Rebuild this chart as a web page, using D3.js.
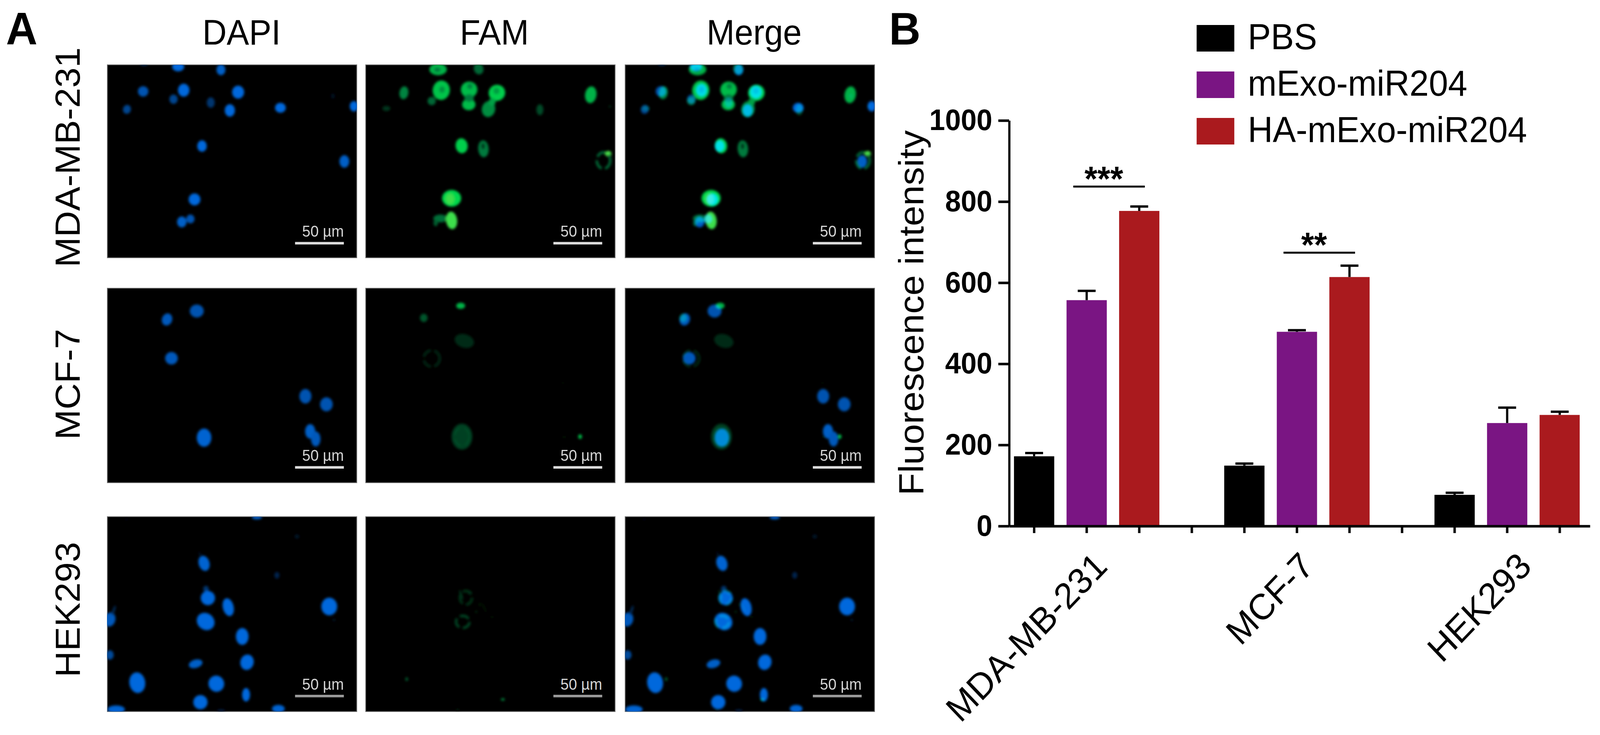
<!DOCTYPE html>
<html>
<head>
<meta charset="utf-8">
<script src="https://d3js.org/d3.v7.min.js"></script>
<style>
    html, body { margin: 0; padding: 0; background: #fff; overflow: hidden; }
    text { font-family: "Liberation Sans", Arial, sans-serif; fill: #000; }
    .axis path, .axis line { stroke: #000; stroke-width: 6.5; }
    .axis text { font-size: 76px; font-weight: bold; }
</style>
</head>
<body>
<div id="figure"></div>
<script>
// panel B values
var categories = ["MDA-MB-231", "MCF-7", "HEK293"];
var seriesNames = ["PBS", "mExo-miR204", "HA-mExo-miR204"];
var seriesColors = ["#000000", "#7a1583", "#aa1a1e"];
var pbsValues = [172, 149, 77];
var mExoValues = [557, 479, 254];
var haValues = [777, 614, 274];
var pbsTops = [180, 154, 82];
var mExoTops = [580, 483, 292];
var haTops = [788, 642, 282];
var yTicks = [0, 200, 400, 600, 800, 1000];
// one slot per tick, the gap slots carry only a tick
var slots = ["a0", "a1", "a2", "gap1", "b0", "b1", "b2", "gap2", "c0", "c1", "c2"];
var groupPrefix = ["a", "b", "c"];
var sigLabels = ["***", "**"];
var sigLevels = [837, 674];
var sigSlots = [["a1", "a2"], ["b1", "b2"]];

// panel A text
var columnNames = ["DAPI", "FAM", "Merge"];
var rowNames = ["MDA-MB-231", "MCF-7", "HEK293"];
var scaleText = "50 µm";

// cells in field units (1568 wide): x, y, rx, ry, angle, level
var dapiRow1 = [
    [230, -5, 25, 12, 0, .4], [445, 15, 38, 35, 0, 1], [714, 38, 28, 42, 0, .9], [225, 204, 33, 40, 0, .8],
    [480, 195, 36, 50, 0, 1], [416, 264, 26, 36, 0, .65], [822, 210, 38, 50, 0, 1], [650, 290, 25, 40, 0, .5],
    [770, 350, 32, 48, 0, 1], [123, 342, 25, 35, 20, .65], [1088, 330, 34, 38, 0, 1], [1418, 240, 12, 20, 0, .15],
    [1550, 318, 26, 40, 0, 1], [595, 624, 30, 44, 0, 1], [1490, 742, 31, 48, 0, .9], [548, 1034, 37, 46, 0, 1],
    [468, 1207, 30, 42, 0, .9], [522, 1184, 26, 34, 0, .8]
];
var dapiRow2 = [
    [375, 240, 32, 48, 25, .85], [562, 175, 44, 50, 0, .8], [403, 538, 40, 48, 0, .85], [1245, 830, 38, 56, 0, .8],
    [1377, 892, 40, 54, 0, .8], [608, 1148, 46, 70, 0, .95], [1275, 1100, 32, 56, 0, .9], [1310, 1158, 30, 58, 0, .85]
];
var dapiRow3 = [
    [940, 5, 32, 16, 0, .9], [120, 20, 8, 6, 0, .15], [1192, 152, 14, 16, 0, .2], [1066, 450, 16, 26, 0, .35],
    [608, 358, 34, 60, -20, .95], [620, 555, 18, 24, 0, .5], [632, 625, 45, 55, 0, 1], [760, 695, 34, 70, -15, 1],
    [618, 805, 58, 64, 30, 1], [848, 920, 40, 65, 0, 1], [878, 1118, 42, 60, 20, 1], [555, 1130, 44, 32, -15, .9],
    [188, 1275, 50, 80, -10, 1], [685, 1283, 50, 62, 30, 1], [872, 1368, 25, 52, 0, 1], [585, 1425, 45, 55, 0, 1],
    [1395, 690, 50, 68, 0, 1], [55, 1480, 55, 30, 0, .95], [1075, 1475, 40, 30, 0, .95], [15, 790, 35, 55, 20, .85],
    [15, 1062, 25, 36, 0, .7], [40, 720, 8, 40, 20, .4], [1425, 793, 7, 12, 0, .2], [580, 280, 8, 10, 0, .15],
    [715, 1490, 25, 10, 0, .3]
];
// later rows sit on top, so the dimmer small ones give the cells their darker middles
var famRow1 = [
    [455, 35, 55, 45, 0, .8], [450, 38, 20, 18, 0, .5], [710, 30, 30, 45, -20, .42], [475, 195, 54, 75, 10, .9],
    [480, 190, 18, 26, 0, .62], [415, 278, 26, 32, 0, .42], [650, 190, 52, 62, 0, .85], [655, 165, 18, 22, 0, .55],
    [648, 305, 42, 44, 0, .85], [650, 255, 30, 30, 0, .5], [825, 215, 52, 62, -10, .95], [822, 200, 20, 26, 0, .68],
    [772, 340, 42, 62, 15, .6], [795, 285, 22, 30, 30, .7], [240, 215, 28, 50, 10, .55], [130, 335, 25, 20, 0, .22],
    [1095, 345, 22, 42, 0, .3], [1415, 230, 36, 65, 10, .8], [1535, 320, 6, 10, 0, .2], [603, 622, 38, 58, -10, .95],
    [740, 645, 33, 65, -5, .5], [738, 625, 12, 24, 0, .22], [1525, 683, 20, 22, 0, 1.1], [540, 1025, 60, 64, 0, 1],
    [530, 1030, 26, 40, 0, 1.08], [470, 1180, 45, 30, 0, .45], [440, 1215, 14, 25, 0, .38], [540, 1195, 35, 68, -8, 1.08]
];
var famRow2 = [
    [597, 135, 28, 24, 0, .8], [365, 228, 24, 32, 0, .35], [620, 405, 62, 52, 15, .18], [670, 730, 120, 140, 0, .012],
    [605, 1140, 65, 100, 0, .26], [1348, 1140, 12, 18, 0, .85], [1248, 1143, 8, 10, 0, .1], [1240, 728, 7, 9, 0, .08]
];
var famRow3 = [
    [600, 600, 6, 40, -20, .25], [655, 585, 12, 12, 0, .3], [718, 675, 6, 8, 0, .2], [695, 730, 7, 8, 0, .2],
    [762, 625, 5, 6, 0, .1], [795, 770, 6, 10, 0, .1], [745, 700, 4, 40, -25, .12], [258, 1248, 9, 14, 0, .38],
    [862, 1404, 12, 9, 0, .6], [578, 1482, 10, 10, 0, .1], [825, 900, 5, 12, 0, .06], [790, 1243, 6, 8, 0, .05]
];
var famRings1 = [[1495, 735, 42, 62, 0, .42]];
var famRings2 = [[415, 540, 50, 62, 0, .16], [605, 1140, 45, 70, 0, .3]];
var famRings3 = [[630, 622, 38, 52, 0, .2], [610, 808, 42, 46, 0, .28]];

var dapiRows = [dapiRow1, dapiRow2, dapiRow3];
var famRows = [famRow1, famRow2, famRow3];
var ringRows = [famRings1, famRings2, famRings3];

// the figure is laid out at 4292x1882 and stretched to whatever window it gets
var figureWidth = 4292;
var figureHeight = 1882;

var svg = d3.select("#figure")
    .append("svg")
    .attr("width", window.innerWidth)
    .attr("height", window.innerHeight)
    .attr("viewBox", `0 0 ${figureWidth} ${figureHeight}`)
    .attr("preserveAspectRatio", "none")
    .style("display", "block");

var blur = svg.append("defs").append("filter")
    .attr("id", "soft")
    .attr("x", "-10%").attr("y", "-10%").attr("width", "120%").attr("height", "120%");
blur.append("feGaussianBlur").attr("stdDeviation", 3.2);

makeMicrographs();
makeBarChart();

function makeMicrographs() {
    var columnX = [288, 981, 1677];
    var rowY = [166, 738, 1323];
    var rowHeight = [494, 498, 499];
    var panelWidth = 669;
    var scaleBarY = [1370, 1376, 1378];
    var scaleBarColor = ["#dcdcdc", "#dcdcdc", "#9a9a9a"];

    var blueScale = d3.scaleLinear().domain([0, 1]).range(["#000000", "#0068dc"]);
    var greenScale = d3.scaleLinear()
        .domain([0, .5, 1, 1.2])
        .range(["#000000", "#007a3e", "#00d84c", "#96ea4a"]);

    columnNames.forEach(function (name, c) {
        svg.append("text")
            .attr("x", [648, 1326, 2023][c])
            .attr("y", 114)
            .attr("text-anchor", "middle")
            .style("font-size", "90px")
            .text(name);
    });

    rowNames.forEach(function (name, r) {
        svg.append("text")
            .attr("transform", `translate(214, ${[403, 984, 1561][r]}) rotate(-90)`)
            .attr("text-anchor", "middle")
            .style("font-size", "93px")
            .text(name);

        var fieldX = d3.scaleLinear().domain([0, 1568]).range([0, panelWidth]);
        var fieldY = d3.scaleLinear().domain([0, rowHeight[r] * 3]).range([0, rowHeight[r]]);

        columnNames.forEach(function (col, c) {
            var clipId = `clip-${r}-${c}`;
            svg.select("defs").append("clipPath").attr("id", clipId)
                .append("rect").attr("width", panelWidth).attr("height", rowHeight[r]);

            var panel = svg.append("g")
                .attr("transform", `translate(${columnX[c]}, ${rowY[r]})`);

            panel.append("rect")
                .attr("width", panelWidth)
                .attr("height", rowHeight[r])
                .attr("fill", "#000")
                .attr("stroke", "#6e6e6e")
                .attr("stroke-width", 2);

            var field = panel.append("g").attr("clip-path", `url(#${clipId})`);

            function addCells(group, rows, color, isRing) {
                group.selectAll("ellipse")
                    .data(rows)
                    .enter()
                    .append("ellipse")
                    .attr("transform", d => `translate(${fieldX(d[0])}, ${fieldY(d[1])}) rotate(${d[4]})`)
                    .attr("rx", d => fieldX(d[2]))
                    .attr("ry", d => fieldY(d[3]))
                    .attr("fill", d => isRing ? "none" : color(d[5]))
                    .attr("stroke", d => isRing ? color(d[5]) : "none")
                    .attr("stroke-width", isRing ? 7 : 0)
                    .attr("stroke-dasharray", isRing ? "26 9" : null);
            }

            if (col !== "FAM") {
                var blueLayer = field.append("g").attr("filter", "url(#soft)");
                addCells(blueLayer, dapiRows[r], blueScale, false);
            }
            if (col !== "DAPI") {
                var greenLayer = field.append("g")
                    .attr("filter", "url(#soft)")
                    .style("mix-blend-mode", "screen");
                var solid = greenLayer.append("g");
                var rings = greenLayer.append("g");
                addCells(solid, famRows[r], greenScale, false);
                addCells(rings, ringRows[r], greenScale, true);
            }

            // scale bar
            panel.append("line")
                .attr("x1", fieldX(1180))
                .attr("x2", fieldX(1487))
                .attr("y1", fieldY(scaleBarY[r]))
                .attr("y2", fieldY(scaleBarY[r]))
                .attr("stroke", scaleBarColor[r])
                .attr("stroke-width", 6.5);

            panel.append("text")
                .attr("x", fieldX(1487))
                .attr("y", fieldY(scaleBarY[r] - 50))
                .attr("text-anchor", "end")
                .attr("textLength", 112)
                .attr("lengthAdjust", "spacingAndGlyphs")
                .style("font-size", "40px")
                .style("fill", "#d4d4d4")
                .text(scaleText);
        });
    });

    svg.append("text")
        .attr("x", 16)
        .attr("y", 114)
        .style("font-size", "117px")
        .style("font-weight", "bold")
        .text("A");
}

function makeBarChart() {
    var xScale = d3.scaleBand()
        .domain(slots)
        .range([2707, 4265])
        .paddingInner(0.234)
        .paddingOuter(0.142)
        .align(0.325);

    var yScale = d3.scaleLinear()
        .domain([0, 1000])
        .range([1347, 308.5]);

    var barWidth = xScale.bandwidth();
    var values = [pbsValues, mExoValues, haValues];
    var tops = [pbsTops, mExoTops, haTops];

    var bars = [];
    categories.forEach(function (cat, g) {
        seriesNames.forEach(function (name, s) {
            bars.push({
                slot: groupPrefix[g] + s,
                value: values[s][g],
                top: tops[s][g],
                color: seriesColors[s]
            });
        });
    });

    var chartGroup = svg.append("g").attr("class", "chart");

    chartGroup.selectAll("rect.bar")
        .data(bars)
        .enter()
        .append("rect")
        .attr("class", "bar")
        .attr("x", d => xScale(d.slot))
        .attr("y", d => yScale(d.value))
        .attr("width", barWidth)
        .attr("height", d => yScale(0) - yScale(d.value))
        .attr("fill", d => d.color);

    // error bars, upper half only
    var errorGroup = chartGroup.selectAll("g.err")
        .data(bars)
        .enter()
        .append("g")
        .attr("class", "err")
        .attr("stroke", "#000")
        .attr("stroke-width", 6);

    errorGroup.append("line")
        .attr("x1", d => xScale(d.slot) + barWidth / 2)
        .attr("x2", d => xScale(d.slot) + barWidth / 2)
        .attr("y1", d => yScale(d.value))
        .attr("y2", d => yScale(d.top));

    errorGroup.append("line")
        .attr("x1", d => xScale(d.slot) + barWidth / 2 - 24)
        .attr("x2", d => xScale(d.slot) + barWidth / 2 + 24)
        .attr("y1", d => yScale(d.top))
        .attr("y2", d => yScale(d.top));

    // axes
    var bottomAxis = d3.axisBottom(xScale)
        .tickSizeInner(18)
        .tickSizeOuter(0)
        .tickFormat("");

    var leftAxis = d3.axisLeft(yScale)
        .tickValues(yTicks)
        .tickFormat(d3.format("d"))
        .tickSizeInner(29)
        .tickSizeOuter(0)
        .tickPadding(16);

    chartGroup.append("g")
        .attr("class", "axis x-axis")
        .attr("transform", `translate(0, ${yScale(0)})`)
        .call(bottomAxis);

    chartGroup.append("g")
        .attr("class", "axis y-axis")
        .attr("transform", "translate(2707, 0)")
        .call(leftAxis);

    // category labels, rotated under the middle bar of each group
    var labelShift = [60, 50, 70];
    chartGroup.selectAll("text.cat")
        .data(categories)
        .enter()
        .append("text")
        .attr("class", "cat")
        .attr("transform", (d, i) => {
            var cx = xScale(groupPrefix[i] + "1") + barWidth / 2;
            return `translate(${cx + labelShift[i]}, ${yScale(0) + 108}) rotate(-45)`;
        })
        .attr("text-anchor", "end")
        .style("font-size", "93px")
        .text(d => d);

    chartGroup.append("text")
        .attr("transform", "translate(2477, 801) rotate(-90)")
        .attr("text-anchor", "middle")
        .style("font-size", "94px")
        .text("Fluorescence intensity");

    // significance brackets
    sigLabels.forEach(function (label, i) {
        var x1 = xScale(sigSlots[i][0]) + barWidth / 2 - 36;
        var x2 = xScale(sigSlots[i][1]) + barWidth / 2 + 15;
        chartGroup.append("line")
            .attr("x1", x1)
            .attr("x2", x2)
            .attr("y1", yScale(sigLevels[i]))
            .attr("y2", yScale(sigLevels[i]))
            .attr("stroke", "#000")
            .attr("stroke-width", 5);
        chartGroup.append("text")
            .attr("x", (x1 + x2) / 2 - 14)
            .attr("y", yScale(sigLevels[i]) + 10)
            .attr("text-anchor", "middle")
            .style("font-size", "89px")
            .style("font-weight", "bold")
            .text(label);
    });

    // legend
    var legend = svg.append("g").attr("class", "legend");
    var legendY = d3.scalePoint().domain(seriesNames).range([64, 302]);

    legend.selectAll("rect")
        .data(seriesNames)
        .enter()
        .append("rect")
        .attr("x", 3210)
        .attr("y", d => legendY(d))
        .attr("width", 101)
        .attr("height", 68)
        .attr("fill", (d, i) => seriesColors[i]);

    legend.selectAll("text")
        .data(seriesNames)
        .enter()
        .append("text")
        .attr("x", 3347)
        .attr("y", d => legendY(d) + 62)
        .style("font-size", "93px")
        .text(d => d);

    svg.append("text")
        .attr("x", 2385)
        .attr("y", 114)
        .style("font-size", "117px")
        .style("font-weight", "bold")
        .text("B");
}
</script>
</body>
</html>
